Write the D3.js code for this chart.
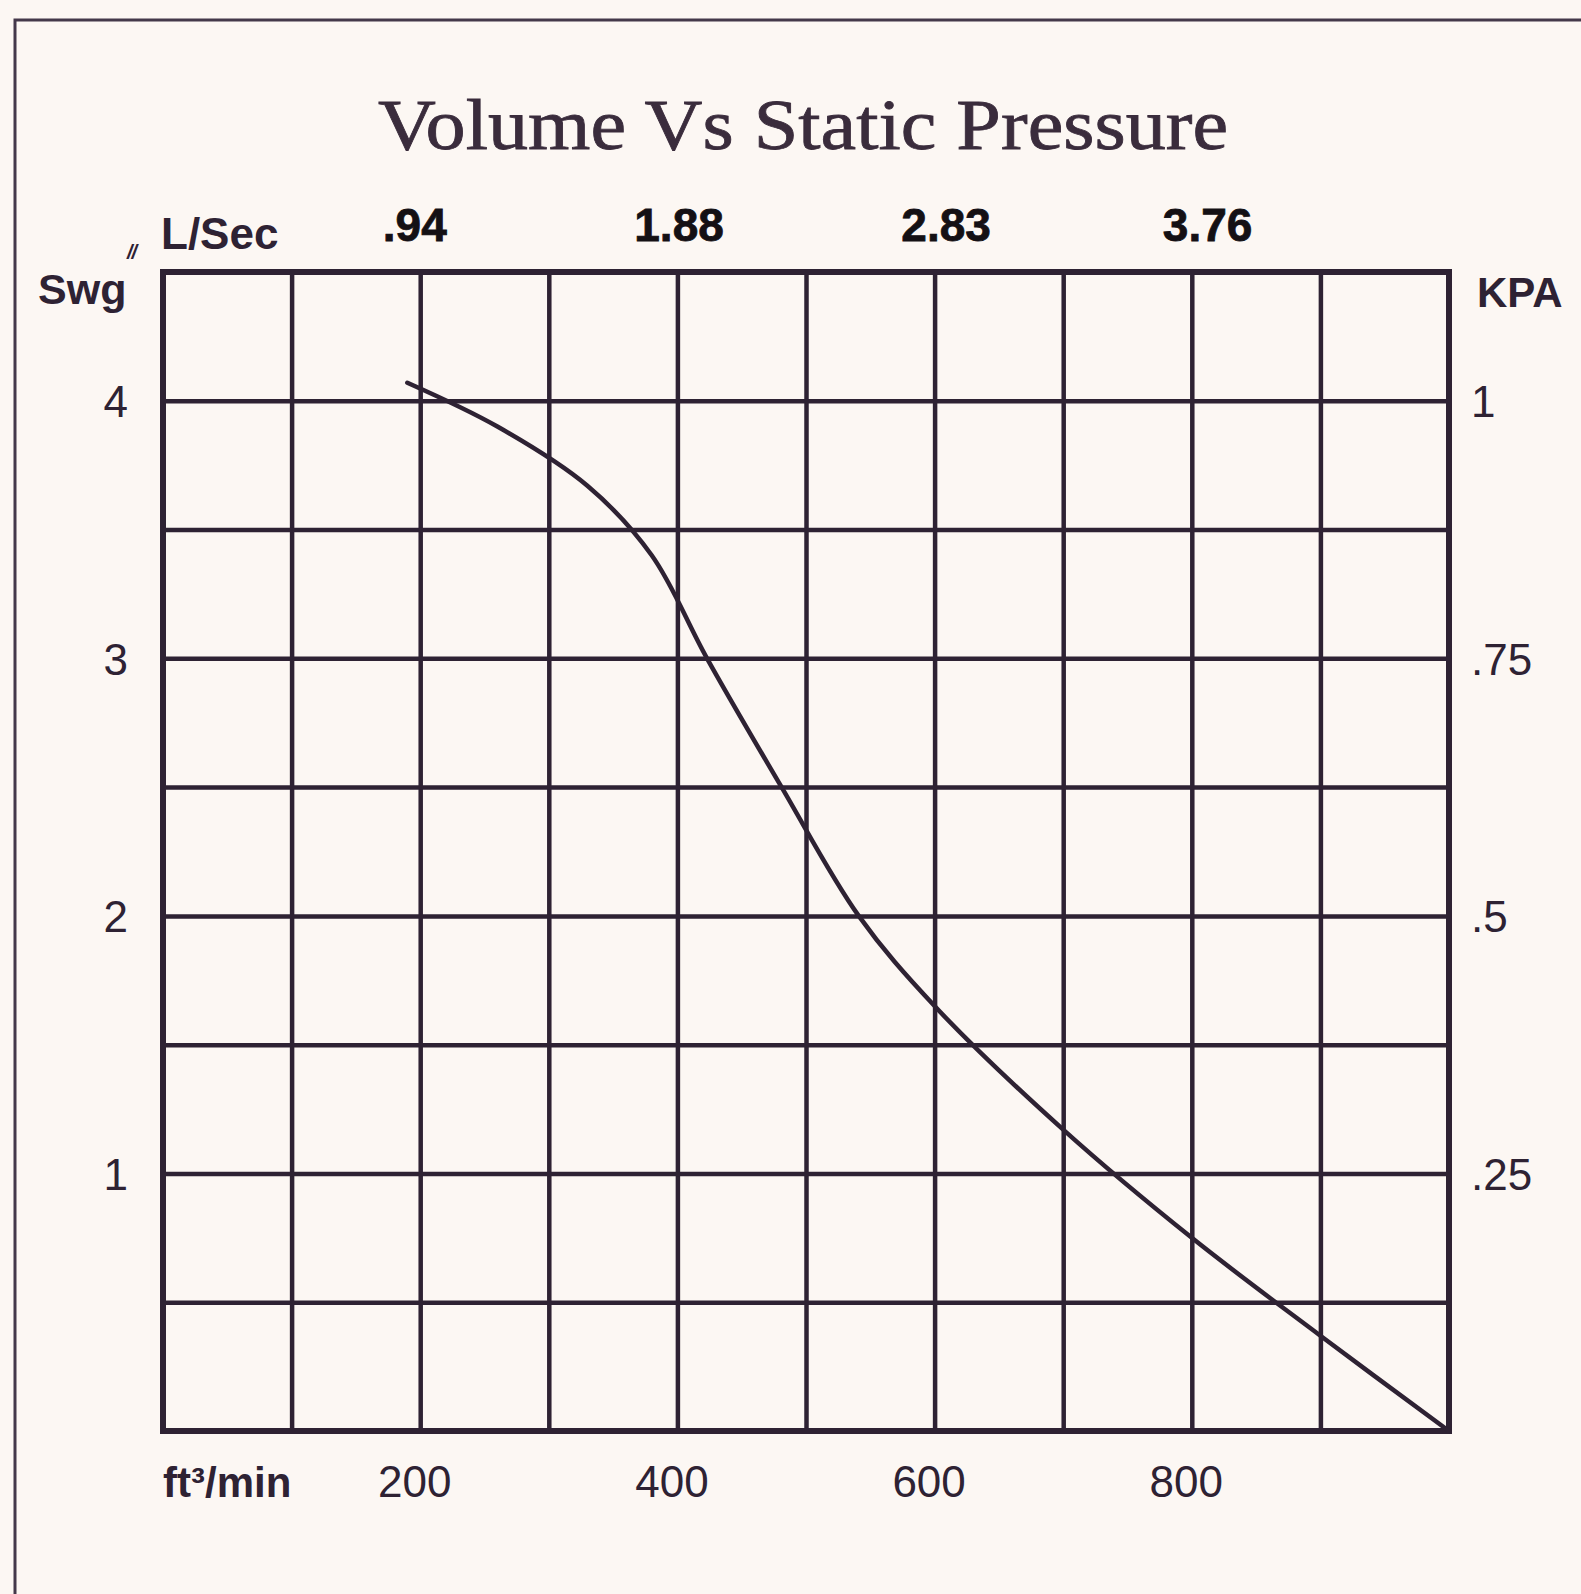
<!DOCTYPE html>
<html>
<head>
<meta charset="utf-8">
<script src="https://cdn.jsdelivr.net/npm/d3@7"></script>
<style>
  html, body { margin: 0; padding: 0; background: #fcf7f3; }
  .chart text { font-family: "Liberation Sans", Arial, sans-serif; fill: #2e2233; }
</style>
</head>
<body>
<div class="chart"></div>
<script>
/* Tick values and labels */
const cfmTicks = [200, 400, 600, 800];
const swgTicks = [1, 2, 3, 4];
const swgLabels = ["1", "2", "3", "4"];
const kpaTicks = [0.25, 0.5, 0.75, 1];
const kpaLabels = [".25", ".5", ".75", "1"];
const lpsTicks = [0.94, 1.88, 2.83, 3.76];
const lpsLabels = [".94", "1.88", "2.83", "3.76"];

/* Fan curve: ft3/min vs inches water gauge */
const flowCfm = [190, 260, 330, 380, 423, 481, 541, 600, 700, 800, 900, 1000];
const pressureSwg = [4.07, 3.9, 3.67, 3.4, 3.0, 2.5, 2.0, 1.65, 1.17, 0.75, 0.37, 0];

document.addEventListener('DOMContentLoaded', function() {
  const w = 1581;
  const h = 1594;
  const left = 163, right = 1449, top = 272, bottom = 1431;
  const ink = "#2e2233";

  /* Scales */
  const xScale = d3.scaleLinear().domain([0, 1000]).range([left, right]);
  const yScale = d3.scaleLinear().domain([0, 4.5]).range([bottom, top]);
  const kpaScale = d3.scaleLinear().domain([0, 1.125]).range([bottom, top]);
  /* printed L/Sec labels sit a little off the ft3/min grid, fitted to the page */
  const lpsScale = d3.scaleLinear().domain([0, 4.72]).range([150, 1477]);

  const svg = d3.select(".chart")
    .append("svg")
    .attr("width", w)
    .attr("height", h);

  svg.append("rect")
    .attr("width", w)
    .attr("height", h)
    .attr("fill", "#fcf7f3");

  /* Page frame */
  svg.append("path")
    .attr("d", "M15," + h + " L15,20 L" + w + ",20")
    .attr("fill", "none")
    .attr("stroke", "#44384a")
    .attr("stroke-width", 3);

  /* Title */
  svg.append("text")
    .attr("x", 803)
    .attr("y", 149)
    .attr("text-anchor", "middle")
    .attr("textLength", 850)
    .attr("lengthAdjust", "spacingAndGlyphs")
    .style("font-family", "'Liberation Serif', 'Times New Roman', serif")
    .style("font-size", "72px")
    .style("fill", "#3a2c3c")
    .style("stroke", "#3a2c3c")
    .style("stroke-width", 0.8)
    .text("Volume Vs Static Pressure");

  /* Grid */
  const xGrid = d3.axisBottom(xScale)
    .tickValues(d3.range(100, 1000, 100))
    .tickSize(-(bottom - top))
    .tickFormat("");
  const yGrid = d3.axisLeft(yScale)
    .tickValues(d3.range(0.5, 4.5, 0.5))
    .tickSize(-(right - left))
    .tickFormat("");

  svg.append("g")
    .attr("transform", "translate(0," + bottom + ")")
    .call(xGrid)
    .call(g => g.select(".domain").remove())
    .selectAll("line")
    .attr("stroke", ink)
    .attr("stroke-width", 4.5);

  svg.append("g")
    .attr("transform", "translate(" + left + ",0)")
    .call(yGrid)
    .call(g => g.select(".domain").remove())
    .selectAll("line")
    .attr("stroke", ink)
    .attr("stroke-width", 4.5);

  svg.append("rect")
    .attr("x", left)
    .attr("y", top)
    .attr("width", right - left)
    .attr("height", bottom - top)
    .attr("fill", "none")
    .attr("stroke", ink)
    .attr("stroke-width", 6);

  /* Curve */
  const points = flowCfm.map((f, i) => [f, pressureSwg[i]]);
  const line = d3.line()
    .x(d => xScale(d[0]))
    .y(d => yScale(d[1]))
    .curve(d3.curveCatmullRom.alpha(0.5));

  svg.append("path")
    .datum(points)
    .attr("d", line)
    .attr("fill", "none")
    .attr("stroke", ink)
    .attr("stroke-width", 4.5)
    .attr("stroke-linecap", "round");

  /* Bottom axis: ft3/min */
  svg.append("g")
    .attr("transform", "translate(-6," + bottom + ")")
    .call(d3.axisBottom(xScale).tickValues(cfmTicks).tickSize(0))
    .call(g => g.select(".domain").remove())
    .selectAll("text")
    .attr("y", 66)
    .attr("dy", 0)
    .style("font-size", "44px");

  /* Left axis: inches water gauge */
  svg.append("g")
    .attr("transform", "translate(" + left + ",0)")
    .call(d3.axisLeft(yScale).tickValues(swgTicks).tickSize(0)
      .tickFormat((d, i) => swgLabels[i]))
    .call(g => g.select(".domain").remove())
    .selectAll("text")
    .attr("x", -35)
    .attr("dy", "0.36em")
    .style("font-size", "44px");

  /* Right axis: KPA */
  svg.append("g")
    .attr("transform", "translate(" + right + ",0)")
    .call(d3.axisRight(kpaScale).tickValues(kpaTicks).tickSize(0)
      .tickFormat((d, i) => kpaLabels[i]))
    .call(g => g.select(".domain").remove())
    .selectAll("text")
    .attr("x", 22)
    .attr("dy", "0.36em")
    .style("font-size", "44px");

  /* Top axis: L/Sec */
  svg.append("g")
    .attr("transform", "translate(0," + top + ")")
    .call(d3.axisTop(lpsScale).tickValues(lpsTicks).tickSize(0)
      .tickFormat((d, i) => lpsLabels[i]))
    .call(g => g.select(".domain").remove())
    .selectAll("text")
    .attr("y", -31)
    .attr("dy", 0)
    .style("font-size", "46px")
    .style("font-weight", "bold")
    .style("fill", "#141014")
    .style("stroke", "#141014")
    .style("stroke-width", 0.8);

  /* Unit labels */
  svg.append("text")
    .attr("x", 161)
    .attr("y", 249)
    .style("font-size", "44px")
    .style("font-weight", "bold")
    .text("L/Sec");

  svg.append("text")
    .attr("x", 38)
    .attr("y", 304)
    .style("font-size", "43px")
    .style("font-weight", "bold")
    .text("Swg");

  svg.append("text")
    .attr("x", 127)
    .attr("y", 259)
    .style("font-size", "20px")
    .style("font-style", "italic")
    .style("font-weight", "bold")
    .style("letter-spacing", "-1px")
    .text("//");

  svg.append("text")
    .attr("x", 1477)
    .attr("y", 307)
    .style("font-size", "42px")
    .style("font-weight", "bold")
    .text("KPA");

  svg.append("text")
    .attr("x", 163)
    .attr("y", 1497)
    .style("font-size", "42px")
    .style("font-weight", "bold")
    .text("ft³/min");
});
</script>
</body>
</html>
